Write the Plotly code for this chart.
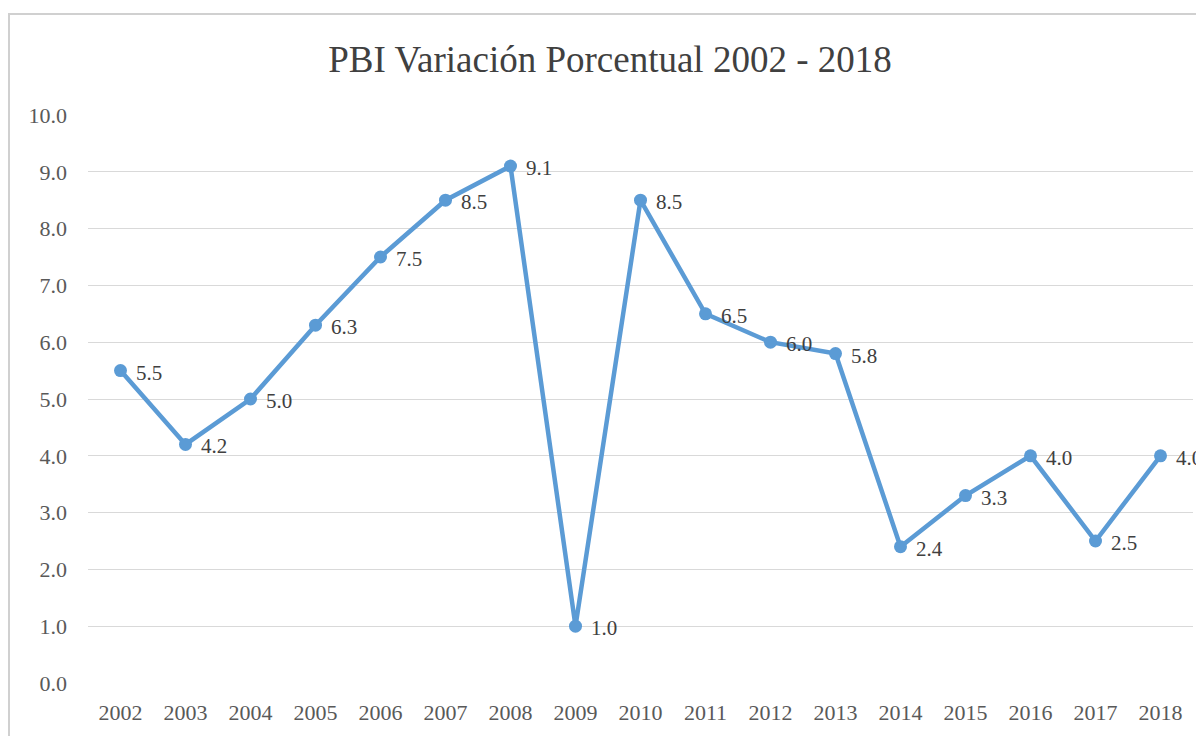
import plotly.graph_objects as go

years = ["2002", "2003", "2004", "2005", "2006", "2007", "2008", "2009", "2010",
         "2011", "2012", "2013", "2014", "2015", "2016", "2017", "2018"]
pbi = [5.5, 4.2, 5.0, 6.3, 7.5, 8.5, 9.1, 1.0, 8.5, 6.5, 6.0, 5.8, 2.4, 3.3, 4.0, 2.5, 4.0]
y_ticks = [0, 1, 2, 3, 4, 5, 6, 7, 8, 9, 10]
y_tick_labels = [f"{v:.1f}" for v in y_ticks]

blue = "#5B9BD5"
serif = "Liberation Serif, Times New Roman, serif"

fig = go.Figure()
fig.add_trace(go.Scatter(
    x=years, y=pbi,
    mode="lines+markers",
    line=dict(color=blue, width=4.5),
    marker=dict(color=blue, size=13),
    cliponaxis=False,
    showlegend=False,
))

annotations = [
    dict(x=i, y=v, xref="x", yref="y", text=f"{v:.1f}", showarrow=False,
         xanchor="left", yanchor="middle", xshift=13, yshift=-2,
         font=dict(family=serif, size=21, color="#404040"))
    for i, v in enumerate(pbi)
]

L, T = 80, 107
PW, PH = 1105, 568

fig.update_layout(
    width=1204, height=736,
    margin=dict(l=L, r=1204 - L - PW, t=T, b=736 - T - PH),
    paper_bgcolor="white", plot_bgcolor="white",
    title=dict(text="PBI Variación Porcentual 2002 - 2018",
               font=dict(family=serif, size=37, color="#404040"),
               x=(610 - 8) / 1204, xanchor="center", y=1 - 51 / 736, yanchor="middle"),
    xaxis=dict(type="category", range=[-0.5, 16.5], showgrid=False,
               showline=False, zeroline=False, ticks="",
               ticklabelstandoff=14,
               tickfont=dict(family=serif, size=22, color="#595959")),
    yaxis=dict(range=[0, 10], tickvals=y_ticks, ticktext=y_tick_labels,
               showgrid=True, gridcolor="#d9d9d9", gridwidth=1,
               zeroline=False, showline=False, ticks="",
               ticklabelstandoff=20,
               tickfont=dict(family=serif, size=22, color="#595959")),
    annotations=annotations,
    shapes=[dict(type="rect", xref="paper", yref="paper",
                 x0=(1 - L) / PW, x1=1.2, y0=-0.3, y1=(T + PH - 6) / PH,
                 line=dict(color="#d0d0d0", width=2), fillcolor="rgba(0,0,0,0)",
                 layer="below")],
)

fig.write_html("out.html")
